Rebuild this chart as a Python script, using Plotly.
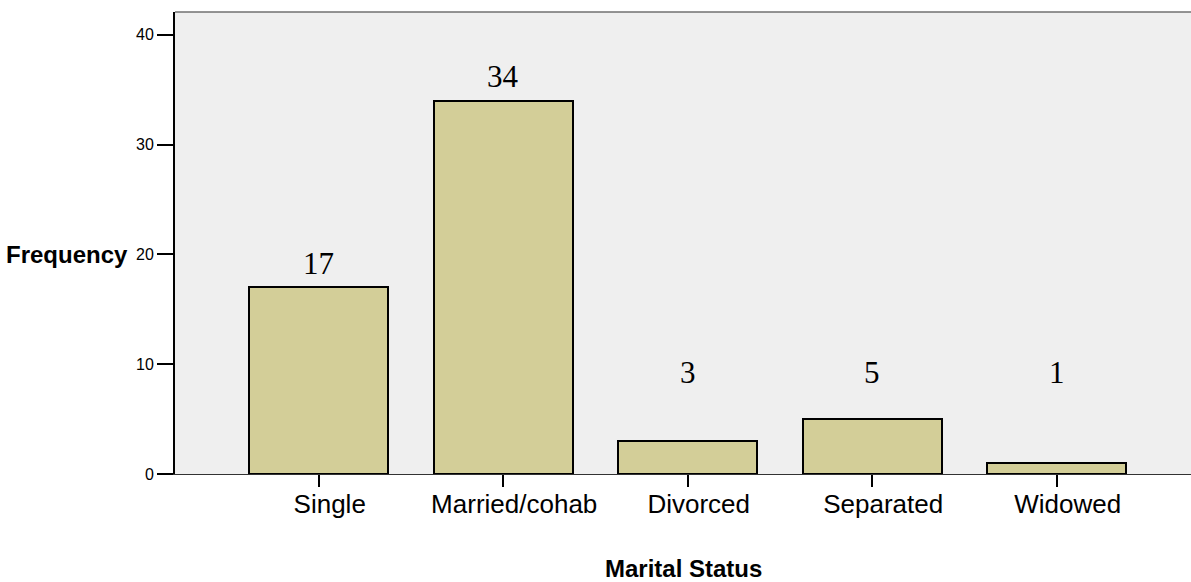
import plotly.graph_objects as go

categories = ["Single", "Married/cohab", "Divorced", "Separated", "Widowed"]
frequencies = [17, 34, 3, 5, 1]
y_tick_values = [0, 10, 20, 30, 40]
x_title = "Marital Status"
y_title = "Frequency"

BAR_FILL = "#d3ce98"
BG = "#efefef"
SANS = "Arial, Liberation Sans, sans-serif"
SERIF = "Times New Roman, Liberation Serif, serif"

fig = go.Figure()
fig.add_trace(go.Bar(
    x=categories,
    y=frequencies,
    width=0.753,
    marker=dict(color=BAR_FILL, line=dict(color="black", width=2)),
    hoverinfo="skip",
))

# value labels (SPSS style: a minimum height for short bars)
label_floor = 7.0
label_offset = 2.2
for cat, v in zip(categories, frequencies):
    fig.add_annotation(
        x=cat, y=max(v, label_floor) + label_offset,
        xref="x", yref="y",
        text=str(v), showarrow=False,
        font=dict(family=SERIF, size=31, color="black"),
        yanchor="middle",
    )

# y title (horizontal, left of axis)
fig.add_annotation(
    x=0, xref="paper", xanchor="right", xshift=-45,
    y=20, yref="y", yanchor="middle",
    text="<b>" + y_title + "</b>", showarrow=False,
    font=dict(family=SANS, size=24, color="black"),
)
# x title
fig.add_annotation(
    x=0.5, xref="paper", xanchor="center",
    y=-0.2035, yref="paper", yanchor="middle",
    text="<b>" + x_title + "</b>", showarrow=False,
    font=dict(family=SANS, size=24, color="black"),
)

# top border
fig.add_shape(type="line", xref="paper", yref="paper", x0=0, x1=1, y0=1, y1=1,
              line=dict(color="#707070", width=1.5))

fig.update_layout(
    width=1191, height=582,
    margin=dict(l=175, r=0, t=12, b=108),
    paper_bgcolor="white",
    plot_bgcolor=BG,
    showlegend=False,
    bargap=0,
)
fig.update_xaxes(
    type="category",
    range=[-0.779, 4.728],
    showline=True, linecolor="#333333", linewidth=1,
    ticks="outside", ticklen=12, tickwidth=2, tickcolor="black",
    tickfont=dict(family=SANS, size=26, color="black"),
    ticklabelshift=11,
    ticklabelstandoff=-5,
    showgrid=False, zeroline=False,
)
fig.update_yaxes(
    range=[0, 42.07],
    tickvals=y_tick_values,
    showline=True, linecolor="black", linewidth=2,
    ticks="outside", ticklen=16, tickwidth=2, tickcolor="black",
    tickfont=dict(family=SANS, size=16, color="black"),
    showgrid=False, zeroline=False,
)

fig.write_html(
    "out.html",
    config={"displayModeBar": False},
    post_script="document.body.style.margin='0';document.body.style.overflow='hidden';",
)
